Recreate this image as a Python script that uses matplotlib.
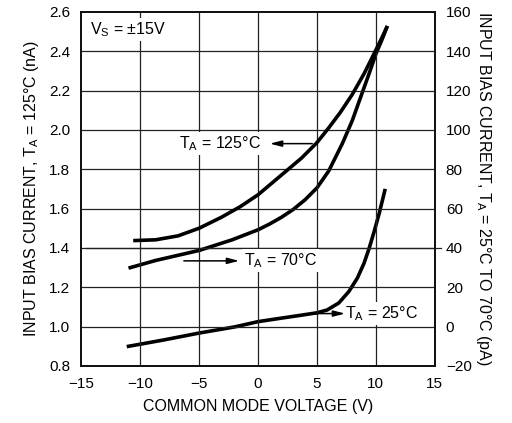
import matplotlib

matplotlib.use("Agg")
import matplotlib.pyplot as plt

plt.rcParams["font.family"] = ["Liberation Sans", "DejaVu Sans"]
plt.rcParams["mathtext.fontset"] = "custom"
plt.rcParams["mathtext.rm"] = "Liberation Sans"

# T_A = 125C, read on the left axis (nA)
vcm_125 = [-10.6, -8.7, -6.8, -5.0, -3.1, -1.5, 0.0, 2.0, 3.7, 5.0, 6.0, 7.0, 8.0,
           9.0, 10.0, 10.57, 10.98]
ib_125 = [1.437, 1.441, 1.461, 1.500, 1.556, 1.610, 1.670, 1.771, 1.857, 1.935, 2.010,
          2.090, 2.180, 2.285, 2.405, 2.475, 2.528]

# T_A = 70C, read on the right axis (pA)
vcm_70 = [-11.0, -8.7, -5.0, -2.2, 0.0, 1.0, 2.0, 3.0, 4.0, 5.0, 6.0, 7.14, 8.0,
          8.71, 9.43, 10.0, 10.57, 10.98]
ib_70 = [29.7, 33.6, 38.7, 44.1, 49.2, 52.2, 55.6, 59.6, 64.5, 70.5, 79.1, 92.8, 104.7,
         116.6, 128.6, 138.5, 146.5, 152.8]

# T_A = 25C, read on the right axis (pA)
vcm_25 = [-11.15, -8.0, -5.0, -2.0, 0.0, 2.0, 3.7, 5.0, 5.86, 6.86, 7.71, 8.43, 9.0,
          9.43, 9.86, 10.29, 10.8]
ib_25 = [-10.2, -6.8, -3.3, -0.2, 2.5, 4.3, 5.8, 7.0, 8.4, 12.0, 17.8, 24.6, 32.2,
         39.7, 48.3, 57.6, 70.0]

x_ticks = [-15, -10, -5, 0, 5, 10, 15]
x_ticklabels = ["\u221215", "\u221210", "\u22125", "0", "5", "10", "15"]
left_ticks = [0.8, 1.0, 1.2, 1.4, 1.6, 1.8, 2.0, 2.2, 2.4, 2.6]
right_ticks = [-20, 0, 20, 40, 60, 80, 100, 120, 140, 160]
right_ticklabels = ["\u221220"] + [str(t) for t in right_ticks[1:]]

fig = plt.figure(figsize=(5.12, 4.23), dpi=100)
ax = fig.add_axes([0.159, 0.135, 0.690, 0.837])
ax2 = ax.twinx()

ax.set_xlim(-15, 15)
ax.set_ylim(0.8, 2.6)
ax2.set_ylim(-20, 160)

ax.set_xticks(x_ticks)
ax.set_xticklabels(x_ticklabels)
ax.set_yticks(left_ticks)
ax.set_yticklabels([f"{t:.1f}" for t in left_ticks])
ax2.set_yticks(right_ticks)
ax2.set_yticklabels(right_ticklabels)

for a in (ax, ax2):
    a.tick_params(length=0, labelsize=11, pad=8)
    for s in a.spines.values():
        s.set_linewidth(1.3)
        s.set_color("#111111")

# grid on inner ticks only
for xv in x_ticks[1:-1]:
    ax.axvline(xv, color="#222222", lw=0.9, zorder=1)
for yv in left_ticks[1:-1]:
    ax.axhline(yv, color="#222222", lw=0.9, zorder=1)
# the 1.4 nA / 40 pA line runs a little past the right edge
ax.plot([-14.6, 15.5], [1.4, 1.4], color="#222222", lw=0.9, clip_on=False, zorder=1)

ax.plot(vcm_125, ib_125, color="black", lw=2.6, solid_capstyle="butt",
        solid_joinstyle="round", zorder=3)
ax2.plot(vcm_70, ib_70, color="black", lw=2.6, solid_capstyle="butt",
         solid_joinstyle="round", zorder=3)
ax2.plot(vcm_25, ib_25, color="black", lw=2.6, solid_capstyle="butt",
         solid_joinstyle="round", zorder=3)

ax.set_xlabel("COMMON MODE VOLTAGE (V)", fontsize=11.5, labelpad=6)
ax.set_ylabel(r"INPUT BIAS CURRENT, T$_\mathregular{A}$ = 125°C (nA)", fontsize=11.5,
              labelpad=6)
ax2.set_ylabel(r"INPUT BIAS CURRENT, T$_\mathregular{A}$ = 25°C TO 70°C (pA)",
               fontsize=11.5, rotation=-90, labelpad=15)

box = dict(facecolor="white", edgecolor="none", pad=1.5)
arrow = dict(arrowstyle="-|>,head_length=0.7,head_width=0.18", color="black", lw=1.1,
             shrinkA=0, shrinkB=0)

ax.text(-14.3, 2.51, r"V$_\mathregular{S}$ = ±15V", fontsize=11.5, va="center",
        ha="left", bbox=box, zorder=4)

ax.text(-6.7, 1.93, r"T$_\mathregular{A}$ = 125°C", fontsize=11.5, va="center",
        ha="left", bbox=box, zorder=4)
ax.annotate("", xy=(1.0, 1.93), xytext=(4.6, 1.93), arrowprops=arrow, zorder=4)

ax.text(-1.2, 1.334, r"T$_\mathregular{A}$ = 70°C", fontsize=11.5, va="center",
        ha="left", bbox=box, zorder=4)
ax.annotate("", xy=(-1.6, 1.334), xytext=(-6.3, 1.334), arrowprops=arrow, zorder=4)

ax.text(7.4, 1.066, r"T$_\mathregular{A}$ = 25°C", fontsize=11.5, va="center",
        ha="left", bbox=box, zorder=4)
ax.annotate("", xy=(7.4, 1.066), xytext=(4.6, 1.066), arrowprops=arrow, zorder=4)

ax.set_zorder(ax2.get_zorder() + 1)
ax.patch.set_visible(False)

fig.savefig("out.png", dpi=100)
